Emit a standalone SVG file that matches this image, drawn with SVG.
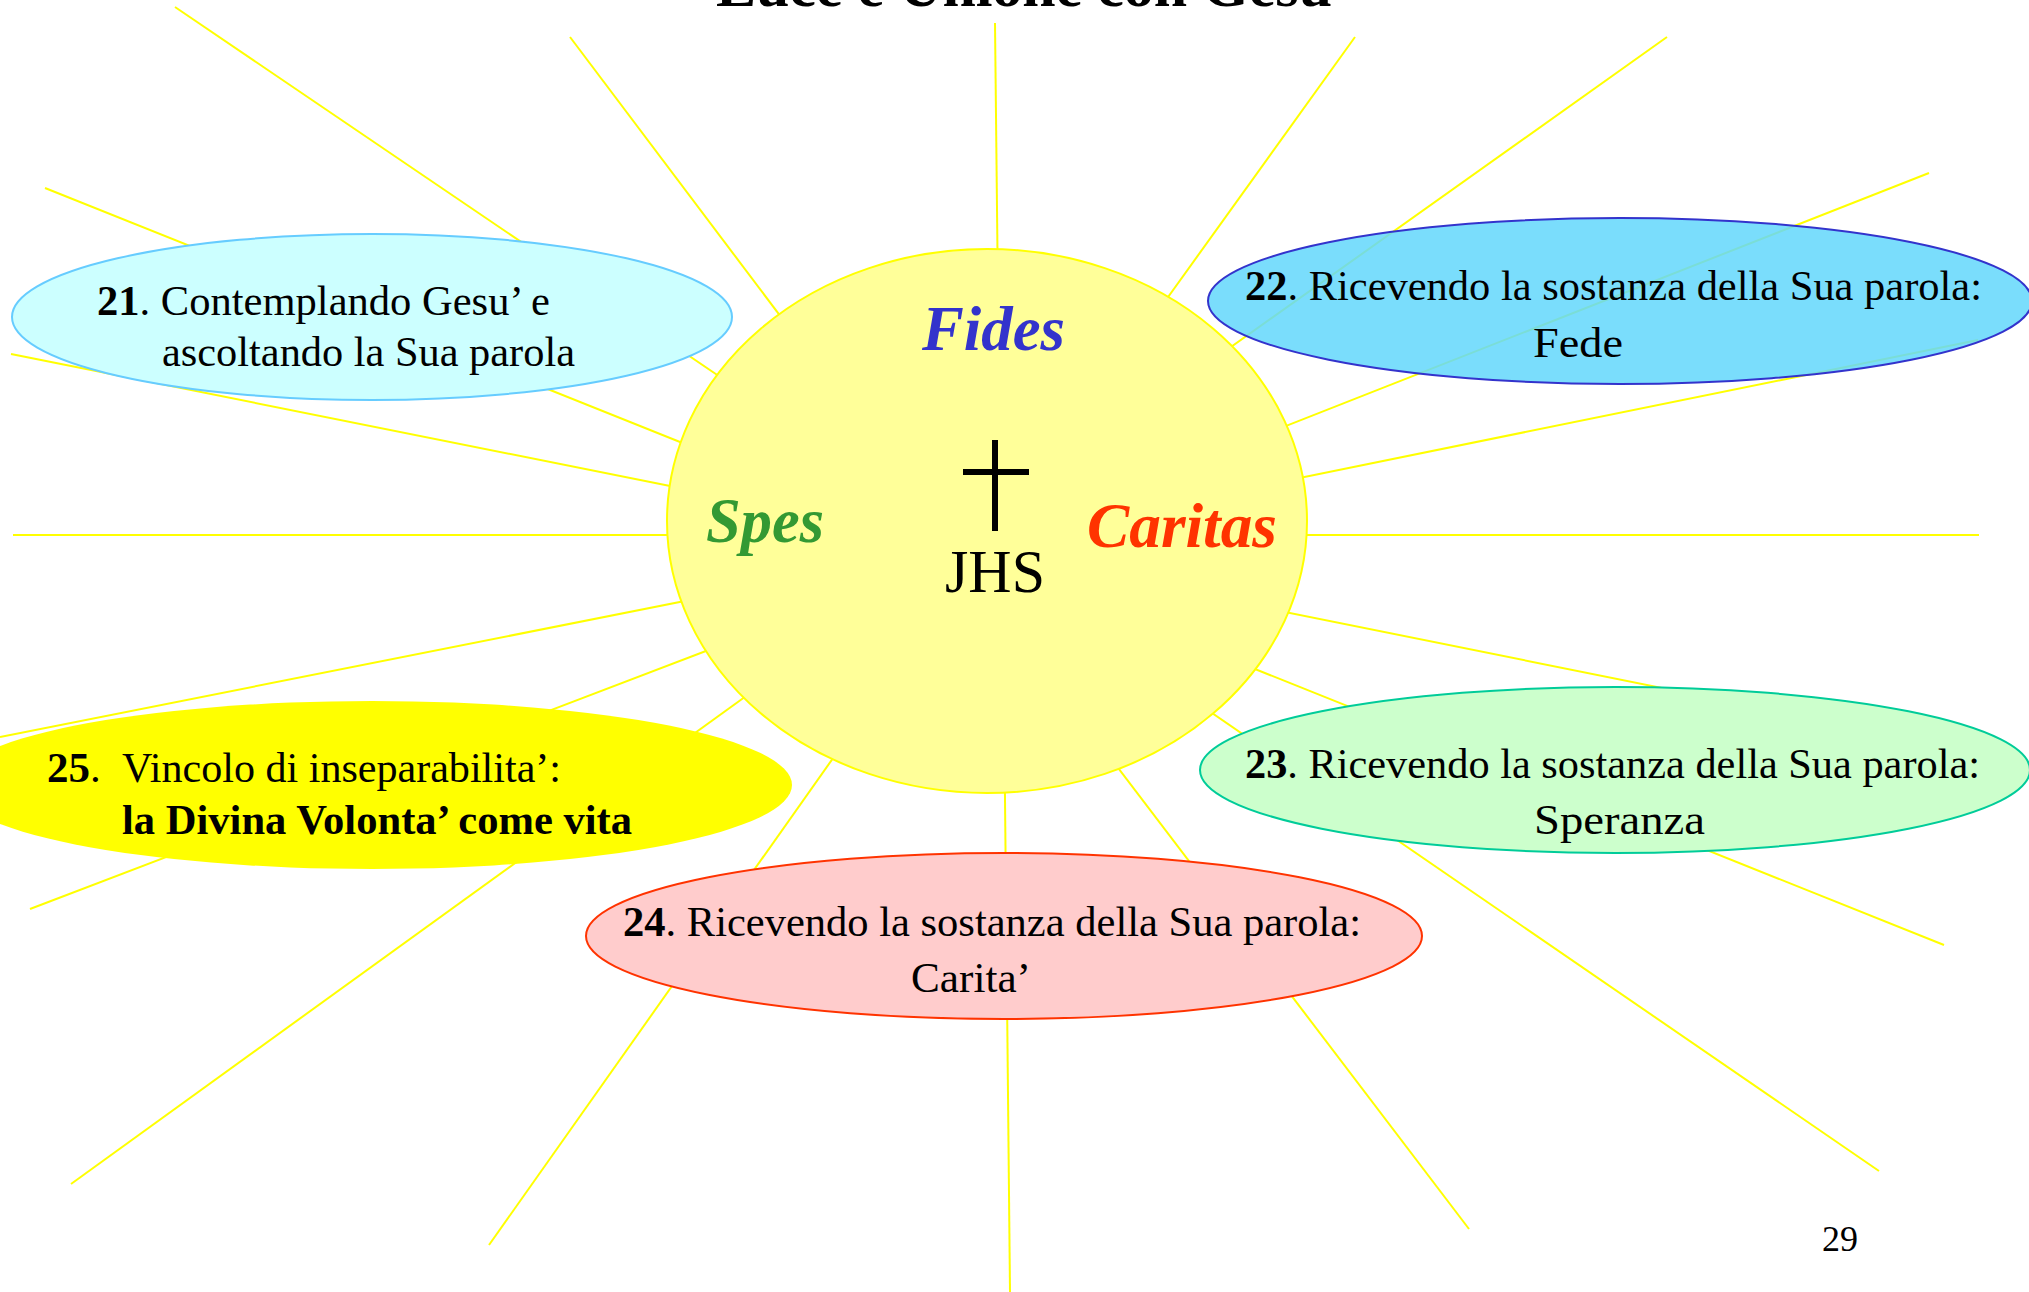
<svg xmlns="http://www.w3.org/2000/svg" width="2029" height="1292" viewBox="0 0 2029 1292">
<style>
.ray{stroke:#FFFF00;stroke-width:2;fill:none}
.t{font-family:"Liberation Serif","Times New Roman",serif;font-size:43px;fill:#000}
.b{font-weight:bold}
.big{font-family:"Liberation Serif","Times New Roman",serif;font-size:63px;font-weight:bold;font-style:italic}
.ell{stroke-width:2}
</style>
<rect width="2029" height="1292" fill="#fff"/>
<text x="1034" y="6" text-anchor="middle" class="t b" style="font-size:60px" textLength="636" lengthAdjust="spacingAndGlyphs">Luce e Unione con Gesu’</text>
<g id="rays">
<line class="ray" x1="175" y1="7" x2="760" y2="404"/>
<line class="ray" x1="570" y1="37" x2="830" y2="382"/>
<line class="ray" x1="995" y1="23" x2="998" y2="300"/>
<line class="ray" x1="1355" y1="37" x2="1130" y2="350"/>
<line class="ray" x1="1667" y1="37" x2="1200" y2="369"/>
<line class="ray" x1="1929" y1="173" x2="1230" y2="448"/>
<line class="ray" x1="1978" y1="340" x2="1250" y2="488"/>
<line class="ray" x1="1979" y1="535" x2="1250" y2="535"/>
<line class="ray" x1="1960" y1="748" x2="1250" y2="605"/>
<line class="ray" x1="1944" y1="945" x2="1230" y2="659"/>
<line class="ray" x1="1879" y1="1171" x2="1180" y2="691"/>
<line class="ray" x1="1469" y1="1229" x2="1090" y2="731"/>
<line class="ray" x1="1010" y1="1292" x2="1004" y2="700"/>
<line class="ray" x1="489" y1="1245" x2="860" y2="720"/>
<line class="ray" x1="71" y1="1184" x2="760" y2="686"/>
<line class="ray" x1="30" y1="909" x2="740" y2="638"/>
<line class="ray" x1="0" y1="737" x2="720" y2="594"/>
<line class="ray" x1="13" y1="535" x2="720" y2="535"/>
<line class="ray" x1="11" y1="354" x2="720" y2="496"/>
<line class="ray" x1="45" y1="188" x2="720" y2="458"/>
</g>
<g id="sun">
<ellipse cx="987" cy="521" rx="320" ry="272" fill="#FFFF99" stroke="#FFFF00" stroke-width="2"/>
<text x="922" y="350" class="big" fill="#3333CC" textLength="143" lengthAdjust="spacingAndGlyphs">Fides</text>
<text x="706" y="542" class="big" fill="#339933" textLength="118" lengthAdjust="spacingAndGlyphs">Spes</text>
<text x="1087" y="547" class="big" fill="#FF3300" textLength="190" lengthAdjust="spacingAndGlyphs">Caritas</text>
<path d="M995 440V531M963 472H1029" stroke="#000" stroke-width="6" fill="none"/>
<text x="945" y="592" class="t" style="font-size:62px" textLength="100" lengthAdjust="spacingAndGlyphs">JHS</text>
</g>
<g id="n21">
<ellipse class="ell" cx="372" cy="317" rx="360" ry="83" fill="#CCFFFF" stroke="#66CCFF"/>
<text x="97" y="315" class="t" textLength="453" lengthAdjust="spacingAndGlyphs"><tspan class="b">21</tspan>. Contemplando Gesu’ e</text>
<text x="162" y="366" class="t" textLength="413" lengthAdjust="spacingAndGlyphs">ascoltando la Sua parola</text>
</g>
<g id="n22">
<ellipse class="ell" cx="1620" cy="301" rx="412" ry="83" fill="#63D7FC" fill-opacity="0.85" stroke="#3333CC"/>
<text x="1245" y="300" class="t" textLength="737" lengthAdjust="spacingAndGlyphs"><tspan class="b">22</tspan>. Ricevendo la sostanza della Sua parola:</text>
<text x="1533" y="357" class="t" textLength="90" lengthAdjust="spacingAndGlyphs">Fede</text>
</g>
<g id="n23">
<ellipse class="ell" cx="1615" cy="770" rx="415" ry="83" fill="#CCFFCC" stroke="#00CC99"/>
<text x="1245" y="778" class="t" textLength="735" lengthAdjust="spacingAndGlyphs"><tspan class="b">23</tspan>. Ricevendo la sostanza della Sua parola:</text>
<text x="1534" y="834" class="t" textLength="171" lengthAdjust="spacingAndGlyphs">Speranza</text>
</g>
<g id="n24">
<ellipse class="ell" cx="1004" cy="936" rx="418" ry="83" fill="#FFCCCC" stroke="#FF3300"/>
<text x="623" y="936" class="t" textLength="738" lengthAdjust="spacingAndGlyphs"><tspan class="b">24</tspan>. Ricevendo la sostanza della Sua parola:</text>
<text x="911" y="992" class="t" textLength="120" lengthAdjust="spacingAndGlyphs">Carita’</text>
</g>
<g id="n25">
<ellipse cx="372" cy="785" rx="420" ry="84" fill="#FFFF00"/>
<text x="47" y="782" class="t"><tspan class="b">25</tspan>.</text>
<text x="122" y="782" class="t" textLength="439" lengthAdjust="spacingAndGlyphs">Vincolo di inseparabilita’:</text>
<text x="122" y="834" class="t b" textLength="510" lengthAdjust="spacingAndGlyphs">la Divina Volonta’ come vita</text>
</g>
<text x="1822" y="1251" class="t" style="font-size:36px">29</text>
</svg>
